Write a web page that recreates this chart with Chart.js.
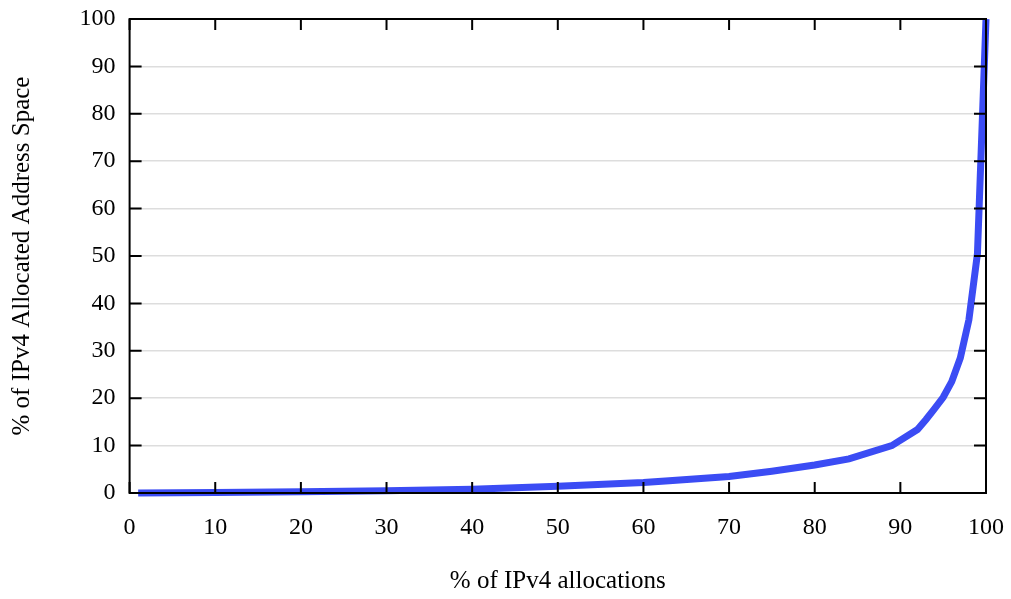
<!DOCTYPE html>
<html>
<head>
<meta charset="utf-8">
<script src="https://cdn.jsdelivr.net/npm/chart.js@4/dist/chart.umd.min.js"></script>
<style>
  body { margin: 0; background: #fff; }
  #wrap { width: 1011px; height: 599px; }
</style>
</head>
<body>
<div id="wrap"><canvas id="cdfChart"></canvas></div>
<script>
// % of allocations (x) vs cumulative % of allocated address space (y)
const allocPct = [1, 10, 20, 30, 40, 50, 60, 63, 70, 75, 80, 84, 89, 92, 93, 94, 95, 96, 97, 98, 99, 100];
const spacePct = [0, 0.1, 0.25, 0.5, 0.8, 1.4, 2.2, 2.6, 3.5, 4.6, 5.9, 7.2, 10, 13.4, 15.5, 17.8, 20.2, 23.5, 28.5, 36.5, 50.5, 100];
const tickValues = [0, 10, 20, 30, 40, 50, 60, 70, 80, 90, 100];

Chart.defaults.font.family = "'Liberation Serif', 'DejaVu Serif', serif";
Chart.defaults.font.size = 24;
Chart.defaults.color = "#000";

// box + inward tick marks like gnuplot
const frame = {
    id: 'frame',
    afterDraw(chart) {
        const { ctx, chartArea: a, scales } = chart;
        ctx.save();
        ctx.strokeStyle = "#000";
        ctx.lineWidth = 2;
        ctx.beginPath();
        tickValues.forEach(v => {
            const px = scales.x.getPixelForValue(v);
            ctx.moveTo(px, a.bottom); ctx.lineTo(px, a.bottom - 11);
            ctx.moveTo(px, a.top); ctx.lineTo(px, a.top + 11);
            const py = scales.y.getPixelForValue(v);
            ctx.moveTo(a.left, py); ctx.lineTo(a.left + 12, py);
            ctx.moveTo(a.right, py); ctx.lineTo(a.right - 12, py);
        });
        ctx.stroke();
        ctx.strokeRect(a.left, a.top, a.right - a.left, a.bottom - a.top);
        ctx.restore();
    }
};

new Chart(document.getElementById('cdfChart'), {
    type: 'line',
    data: {
        datasets: [{
            data: allocPct.map((x, i) => ({ x: x, y: spacePct[i] })),
            borderColor: "#3b4cf4",
            borderWidth: 7,
            pointRadius: 0,
            tension: 0,
            fill: false,
            clip: 6
        }]
    },
    options: {
        responsive: true,
        maintainAspectRatio: false,
        animation: false,
        layout: { padding: { top: 19, right: 25, left: 0, bottom: 0 } },
        plugins: {
            legend: { display: false },
            tooltip: { enabled: false }
        },
        scales: {
            x: {
                type: 'linear',
                min: 0,
                max: 100,
                ticks: { stepSize: 10, padding: 20, maxRotation: 0 },
                grid: { display: false, drawTicks: false },
                border: { display: false },
                title: { display: true, text: '% of IPv4 allocations', font: { size: 25 }, padding: { top: 0, bottom: 3 } },
                afterFit(scale) {
                    scale.height = 106;
                    scale.paddingLeft = 0;
                    scale.paddingRight = 0;
                }
            },
            y: {
                min: 0,
                max: 100,
                ticks: { stepSize: 10, padding: 14 },
                grid: { color: "#dddddd", lineWidth: 1.5, drawTicks: false },
                border: { display: false },
                title: { display: true, text: '% of IPv4 Allocated Address Space', font: { size: 25 }, padding: { top: 7, bottom: 0 } },
                afterFit(scale) {
                    scale.width = 129.6;
                    scale.paddingTop = 0;
                    scale.paddingBottom = 0;
                }
            }
        }
    },
    plugins: [frame]
});
</script>
</body>
</html>
